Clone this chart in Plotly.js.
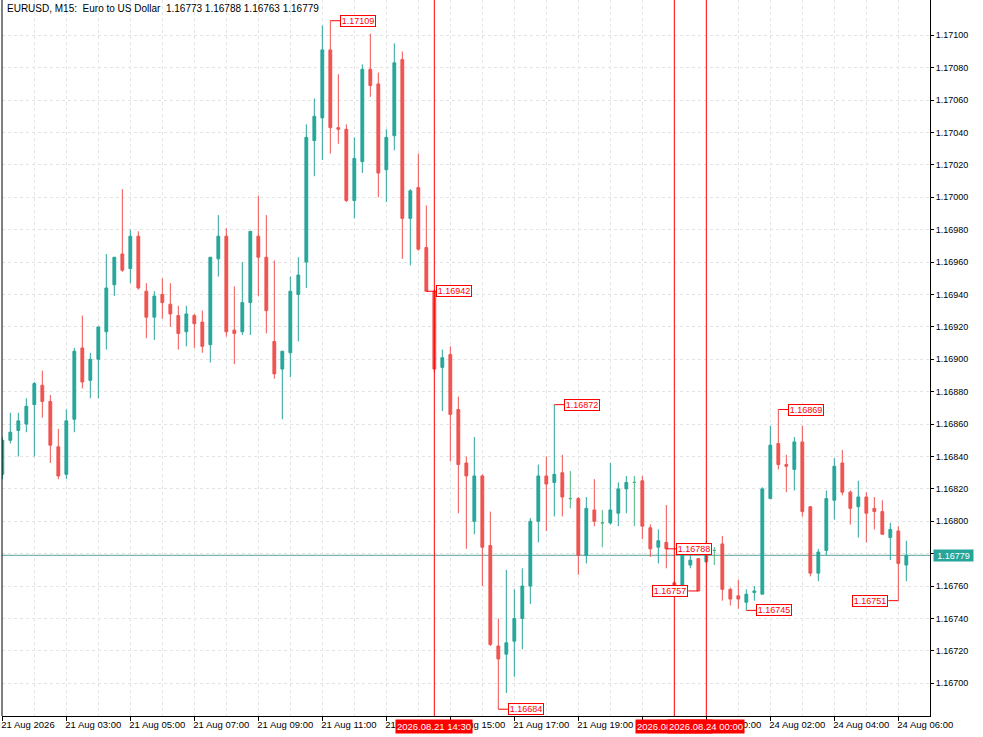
<!DOCTYPE html>
<html><head><meta charset="utf-8">
<script src="https://cdn.plot.ly/plotly-3.0.1.min.js"></script>
<style>html,body{margin:0;padding:0;background:#fff;}#chart{width:983px;height:737px;}</style>
</head><body><div id="chart"></div>
<script>
// ---- data (EURUSD M15, one value per 15-min bar) ----
const openP = [
1.16829,1.16850,1.16856,1.16860,1.16872,1.16884,1.16874,1.16846,1.16829,1.16863,
1.16907,1.16887,1.16900,1.16917,1.16946,1.16965,1.16956,1.16976,1.16942,1.16926,
1.16940,1.16934,1.16927,1.16917,1.16927,1.16923,1.16909,1.16962,1.16976,1.16918,
1.16917,1.16935,1.16976,1.16963,1.16911,1.16894,1.16904,1.16940,1.16960,1.17035,
1.17049,1.17091,1.17043,1.17042,1.16998,1.17022,1.17079,1.17070,1.17017,1.17038,
1.17085,1.16987,1.17006,1.16969,1.16942,1.16895,1.16903,1.16869,1.16836,1.16800,
1.16828,1.16785,1.16723,1.16718,1.16726,1.16740,1.16760,1.16800,1.16828,1.16824,
1.16830,1.16814,1.16814,1.16779,1.16807,1.16799,1.16799,1.16805,1.16820,1.16824,
1.16825,1.16796,1.16784,1.16787,1.16762,1.16760,1.16773,1.16777,1.16775,1.16782,
1.16786,1.16758,1.16754,1.16750,1.16756,1.16755,1.16814,1.16848,1.16835,1.16832,
1.16849,1.16809,1.16768,1.16782,1.16813,1.16836,1.16818,1.16809,1.16815,1.16808,
1.16806,1.16790,1.16794,1.16773];
const highP = [
1.16852,1.16867,1.16867,1.16876,1.16886,1.16893,1.16878,1.16857,1.16869,1.16907,
1.16927,1.16904,1.16920,1.16965,1.16963,1.17005,1.16980,1.16979,1.16947,1.16942,
1.16950,1.16947,1.16933,1.16933,1.16928,1.16930,1.16963,1.16989,1.16981,1.16945,
1.16960,1.16979,1.17001,1.16989,1.16961,1.16905,1.16951,1.16963,1.17045,1.17061,
1.17106,1.17109,1.17076,1.17045,1.17037,1.17082,1.17101,1.17077,1.17042,1.17095,
1.17090,1.17005,1.17027,1.16995,1.16943,1.16906,1.16908,1.16877,1.16840,1.16852,
1.16829,1.16806,1.16740,1.16770,1.16758,1.16771,1.16802,1.16835,1.16840,1.16872,
1.16841,1.16831,1.16815,1.16815,1.16826,1.16807,1.16836,1.16824,1.16828,1.16828,
1.16828,1.16798,1.16795,1.16810,1.16763,1.16786,1.16786,1.16777,1.16788,1.16784,
1.16791,1.16759,1.16764,1.16758,1.16760,1.16821,1.16859,1.16869,1.16841,1.16852,
1.16859,1.16809,1.16783,1.16819,1.16839,1.16844,1.16819,1.16825,1.16818,1.16815,
1.16813,1.16799,1.16797,1.16788];
const lowP = [
1.16826,1.16848,1.16840,1.16855,1.16840,1.16864,1.16836,1.16826,1.16826,1.16855,
1.16882,1.16876,1.16876,1.16906,1.16939,1.16954,1.16947,1.16943,1.16913,1.16912,
1.16925,1.16920,1.16906,1.16908,1.16907,1.16904,1.16898,1.16951,1.16914,1.16897,
1.16915,1.16915,1.16939,1.16916,1.16888,1.16863,1.16889,1.16911,1.16944,1.17013,
1.17023,1.17027,1.17033,1.16997,1.16987,1.17015,1.17062,1.17000,1.16997,1.17029,
1.16962,1.16958,1.16967,1.16942,1.16892,1.16868,1.16837,1.16805,1.16783,1.16792,
1.16760,1.16723,1.16684,1.16694,1.16704,1.16721,1.16749,1.16787,1.16794,1.16803,
1.16803,1.16808,1.16767,1.16774,1.16797,1.16784,1.16798,1.16797,1.16805,1.16797,
1.16789,1.16778,1.16774,1.16771,1.16759,1.16758,1.16771,1.16757,1.16774,1.16773,
1.16751,1.16748,1.16746,1.16745,1.16751,1.16755,1.16814,1.16832,1.16818,1.16819,
1.16803,1.16766,1.16763,1.16779,1.16801,1.16816,1.16798,1.16790,1.16787,1.16795,
1.16792,1.16776,1.16751,1.16763];
const closeP = [
1.16850,1.16855,1.16862,1.16871,1.16885,1.16874,1.16847,1.16828,1.16862,1.16905,
1.16886,1.16900,1.16920,1.16944,1.16963,1.16955,1.16976,1.16944,1.16926,1.16939,
1.16935,1.16928,1.16916,1.16928,1.16922,1.16908,1.16963,1.16976,1.16917,1.16916,
1.16935,1.16979,1.16963,1.16930,1.16891,1.16905,1.16942,1.16952,1.17037,1.17050,
1.17091,1.17043,1.17042,1.16998,1.17024,1.17079,1.17069,1.17015,1.17037,1.17083,
1.16987,1.17004,1.16968,1.16942,1.16894,1.16901,1.16866,1.16835,1.16828,1.16828,
1.16784,1.16724,1.16715,1.16725,1.16740,1.16760,1.16800,1.16828,1.16823,1.16829,
1.16815,1.16814,1.16779,1.16808,1.16800,1.16799,1.16807,1.16820,1.16824,1.16824,
1.16797,1.16783,1.16788,1.16783,1.16760,1.16782,1.16776,1.16757,1.16783,1.16782,
1.16758,1.16752,1.16752,1.16755,1.16757,1.16820,1.16847,1.16835,1.16834,1.16849,
1.16806,1.16768,1.16781,1.16814,1.16834,1.16818,1.16808,1.16815,1.16805,1.16806,
1.16792,1.16795,1.16774,1.16779];

const tickIdx  = [0,8,16,24,32,40,48,56,64,72,80,88,96,104,112];
const tickText = ['21 Aug 2026','21 Aug 03:00','21 Aug 05:00','21 Aug 07:00','21 Aug 09:00',
  '21 Aug 11:00','21 Aug 13:00','21 Aug 15:00','21 Aug 17:00','21 Aug 19:00','21 Aug 21:00',
  '24 Aug 00:00','24 Aug 02:00','24 Aug 04:00','24 Aug 06:00'];
const yTicks = [1.167,1.1672,1.1674,1.1676,1.1678,1.168,1.1682,1.1684,1.1686,1.1688,
  1.169,1.1692,1.1694,1.1696,1.1698,1.17,1.1702,1.1704,1.1706,1.1708,1.171];

const eventIdx  = [54,84,88];
const eventText = ['2026.08.21 14:30','2026.08.21 22:00','2026.08.24 00:00'];

const markIdx   = [41,53,69,62,83,87,93,97,112];
const markPrice = [1.17109,1.16942,1.16872,1.16684,1.16783,1.16757,1.16745,1.16869,1.16751];
const markText  = ['1.17109','1.16942','1.16872','1.16684','1.16788','1.16757','1.16745','1.16869','1.16751'];
const markSide  = [1,1,1,1,1,-1,1,1,-1];

const lastPrice = 1.16779;
const chartTitle = 'EURUSD, M15:\u00a0\u00a0Euro to US Dollar\u00a0\u00a01.16773 1.16788 1.16763 1.16779';

// ---- styling ----
const UP = '#26a69a', DOWN = '#ef5350', DOJI = '#4cb580', EVT = '#ff0000';
const GRID = '#e4e4e4';
const FONT = 'Liberation Sans, Arial, sans-serif';

const idx = openP.map((_, i) => i);
const isDoji = idx.map(i => openP[i] === closeP[i]);
const pick = (arr, want) => idx.filter(i => isDoji[i] === want).map(i => arr[i]);

const mainTrace = {
  type: 'candlestick',
  x: pick(idx, false), open: pick(openP, false), high: pick(highP, false),
  low: pick(lowP, false), close: pick(closeP, false),
  increasing: {line: {color: UP, width: 1}, fillcolor: UP},
  decreasing: {line: {color: DOWN, width: 1}, fillcolor: DOWN},
  whiskerwidth: 0, hoverinfo: 'skip', showlegend: false
};
const dojiTrace = {
  type: 'candlestick',
  x: pick(idx, true), open: pick(openP, true), high: pick(highP, true),
  low: pick(lowP, true), close: pick(closeP, true),
  increasing: {line: {color: DOJI, width: 1}, fillcolor: DOJI},
  decreasing: {line: {color: DOJI, width: 1}, fillcolor: DOJI},
  whiskerwidth: 0, hoverinfo: 'skip', showlegend: false
};

const shapes = [];
const annotations = [];

// left frame line
shapes.push({type: 'line', xref: 'paper', yref: 'paper', x0: 0, x1: 0, y0: 0, y1: 1,
  line: {color: '#000', width: 1}});
// current price line
shapes.push({type: 'line', xref: 'paper', yref: 'y', x0: 0, x1: 1, y0: lastPrice, y1: lastPrice,
  line: {color: '#5aa39c', width: 1}, layer: 'below'});
// event lines
eventIdx.forEach(k => shapes.push({type: 'line', xref: 'x', yref: 'paper', x0: k, x1: k, y0: 0, y1: 1,
  line: {color: EVT, width: 1}}));
// mark connectors
markIdx.forEach((k, i) => shapes.push({type: 'line', xref: 'x', yref: 'y',
  x0: k, x1: k + markSide[i] * 1.25, y0: markPrice[i], y1: markPrice[i],
  line: {color: EVT, width: 1}}));

// title
annotations.push({xref: 'paper', yref: 'paper', x: 0, y: 1, xanchor: 'left', yanchor: 'top',
  xshift: 3, yshift: -1, text: chartTitle, showarrow: false,
  font: {family: FONT, size: 10, color: '#000'}});

// mark labels
markIdx.forEach((k, i) => annotations.push({xref: 'x', yref: 'y', x: k, y: markPrice[i],
  xanchor: markSide[i] > 0 ? 'left' : 'right', yanchor: 'middle', xshift: markSide[i] * 10,
  text: markText[i], showarrow: false, bgcolor: '#fff', bordercolor: EVT, borderwidth: 1,
  borderpad: 0, width: 34, height: 10, font: {family: FONT, size: 9, color: EVT}}));

// event labels on the time axis
eventIdx.forEach((k, i) => annotations.push({xref: 'x', yref: 'paper', x: k, y: 0,
  xanchor: 'center', yanchor: 'top', yshift: -3, text: eventText[i], showarrow: false,
  bgcolor: EVT, borderpad: 1, width: 74, height: 11,
  font: {family: FONT, size: 9.5, color: '#fff'}}));

// last price tag
annotations.push({xref: 'paper', yref: 'y', x: 1, y: lastPrice, xanchor: 'left', yanchor: 'middle',
  xshift: 3, text: lastPrice.toFixed(5), showarrow: false, bgcolor: UP, borderpad: 1,
  width: 37, height: 9, font: {family: FONT, size: 9, color: '#fff'}});

const layout = {
  width: 983, height: 737,
  margin: {l: 2, r: 53, t: 0, b: 21, pad: 0},
  paper_bgcolor: '#fff', plot_bgcolor: '#fff',
  showlegend: false, boxgap: 0.5, hovermode: false,
  font: {family: FONT, size: 9, color: '#000'},
  xaxis: {
    type: 'linear', range: [-0.04, 115.96], rangeslider: {visible: false}, fixedrange: true,
    tickmode: 'array', tickvals: tickIdx, ticktext: tickText, tickangle: 0,
    ticks: 'outside', ticklen: 4, tickcolor: '#000', tickwidth: 1,
    ticklabelposition: 'outside right', ticklabeloverflow: 'allow', ticklabelshift: -2,
    tickfont: {family: FONT, size: 9.5, color: '#000'},
    showline: true, linecolor: '#000', linewidth: 1, zeroline: false,
    showgrid: false,
    minor: {tickmode: 'linear', tick0: 0, dtick: 4, showgrid: true, gridcolor: GRID,
      griddash: '3px,3px', gridwidth: 1, ticks: ''}
  },
  yaxis: {
    side: 'right', range: [1.1667981, 1.1712179], fixedrange: true,
    tickmode: 'array', tickvals: yTicks, ticktext: yTicks.map(v => v.toFixed(5)),
    ticks: 'outside', ticklen: 3, tickcolor: '#000', tickwidth: 1,
    tickfont: {family: FONT, size: 9, color: '#000'},
    showline: true, linecolor: '#000', linewidth: 1, zeroline: false,
    showgrid: true, gridcolor: GRID, griddash: '3px,3px', gridwidth: 1
  },
  shapes: shapes,
  annotations: annotations
};

Plotly.newPlot('chart', [mainTrace, dojiTrace], layout, {displayModeBar: false, staticPlot: true});
</script>
</body></html>
